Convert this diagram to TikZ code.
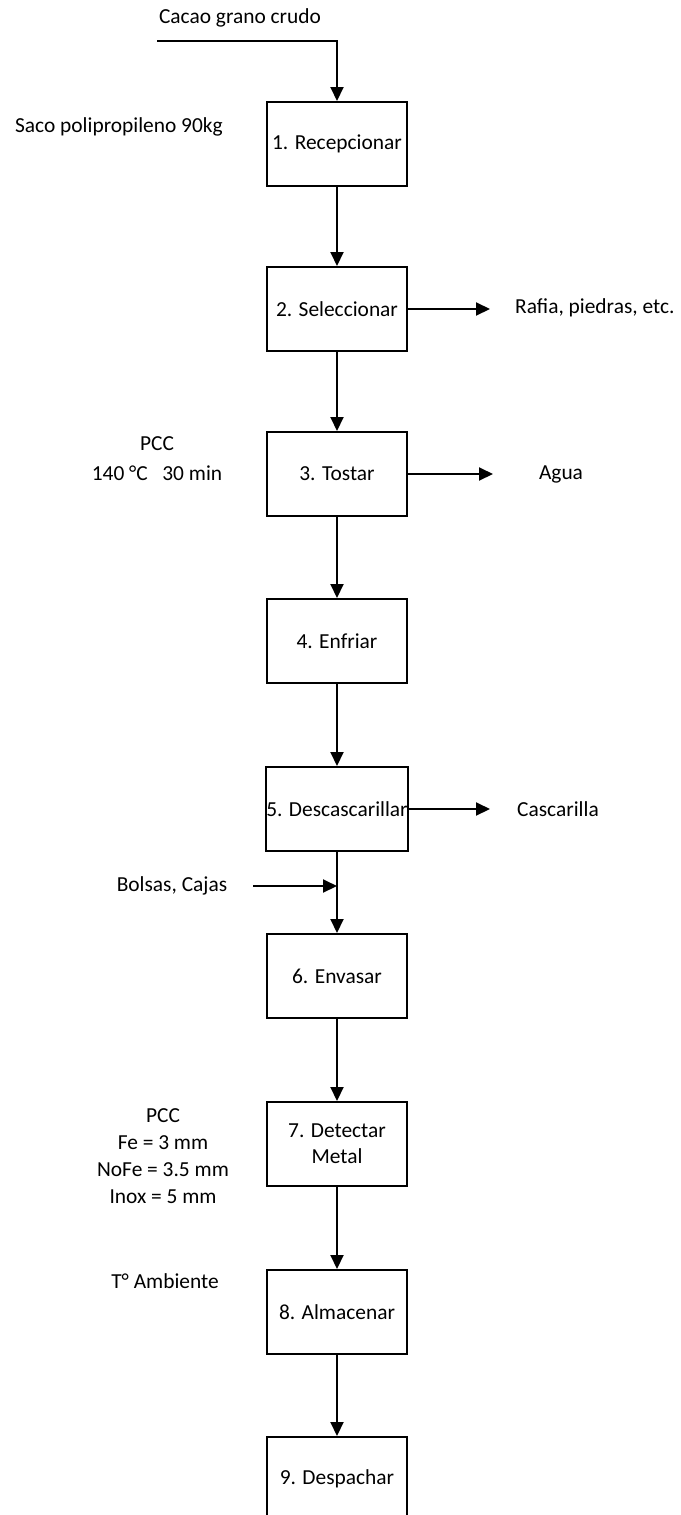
\documentclass[tikz,border=0pt]{standalone}
\usepackage{fontspec}
\setmainfont{Carlito}
\usetikzlibrary{arrows.meta}
\begin{document}
\begin{tikzpicture}[x=1pt,y=-1pt,
  txt/.style={font=\fontsize{21.4}{27}\selectfont},
  stepbox/.style={txt, draw, line width=2pt, minimum width=140pt,
    minimum height=84pt, inner sep=0pt, align=center},
  lbl/.style={txt, inner sep=0pt, align=center},
  flow/.style={line width=2pt, -{Triangle[length=14pt,width=13pt]}},
  link/.style={line width=2pt}]
\useasboundingbox (0,0) rectangle (680,1515);
\clip (0,0) rectangle (680,1515);

% process steps
\node[stepbox] (b1) at (337,144) {1. Recepcionar};
\node[stepbox] (b2) at (337,309) {2. Seleccionar};
\node[stepbox] (b3) at (337,474) {3. Tostar};
\node[stepbox] (b4) at (337,641) {4. Enfriar};
\node[stepbox] (b5) at (337,809) {5. Descascarillar};
\node[stepbox] (b6) at (337,976) {6. Envasar};
\node[stepbox] (b7) at (337,1144) {7. Detectar\\[-1pt]Metal};
\node[stepbox] (b8) at (337,1312) {8. Almacenar};
\node[stepbox] (b9) at (337,1479) {9. Despachar};

% main flow
\foreach \a/\b in {b1/b2,b2/b3,b3/b4,b4/b5,b5/b6,b6/b7,b7/b8,b8/b9}
  \draw[flow] (\a.south) -- (\b.north);

% raw material input
\node[lbl] (cacao) at (240,18) {Cacao grano crudo};
\coordinate (in0) at (157,41);
\draw[flow] (in0) -| (b1.north);

% packaging input
\node[lbl] (bolsas) at (172,886) {Bolsas, Cajas};
\coordinate (bolA) at (253,886);
\coordinate (bolB) at (b5.south |- bolA);
\draw[flow] (bolA) -- (bolB);

% outputs
\node[lbl, anchor=west] (rafia) at (515,308) {Rafia, piedras, etc.};
\coordinate (o2) at (490,309);
\draw[flow] (b2.east) -- (o2);

\node[lbl] (agua) at (561,474) {Agua};
\coordinate (o3) at (493,474);
\draw[flow] (b3.east) -- (o3);

\node[lbl, anchor=west] (cascarilla) at (517,809) {Cascarilla};
\coordinate (o5) at (490,809);
\draw[flow] (b5.east) -- (o5);

% side notes
\node[lbl] (saco) at (119,127) {Saco polipropileno 90kg};
\node[lbl, font=\fontsize{21.4}{30}\selectfont] (pcc3) at (157,459) {PCC\\140 °C\ \ \ 30 min};
\node[lbl] (pcc7) at (163,1156) {PCC\\Fe = 3 mm\\NoFe = 3.5 mm\\Inox = 5 mm};
\node[lbl] (temp) at (165,1281) {T° Ambiente};
\end{tikzpicture}
\end{document}
